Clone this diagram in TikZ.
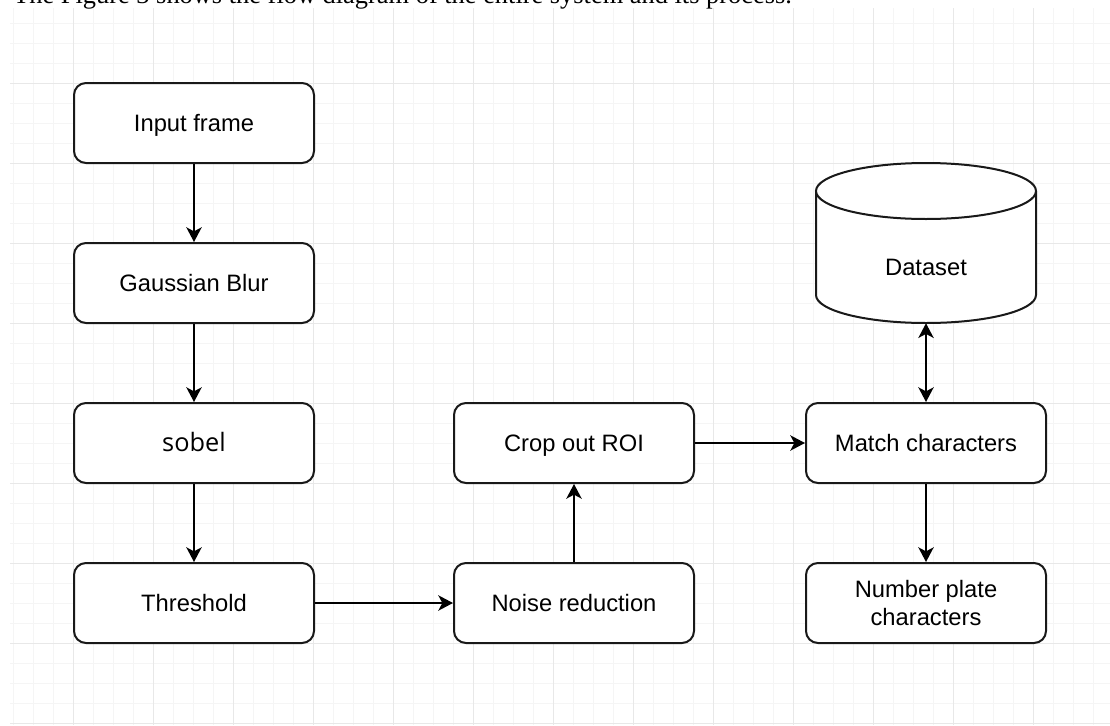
\documentclass[tikz,border=0pt]{standalone}
\usepackage{fontspec}
\setmainfont{Liberation Sans}
\newfontfamily\docserif{Liberation Serif}
\newfontfamily\labelalt{Open Sans}
\usetikzlibrary{arrows.meta}

\tikzset{
  gridminor/.style={draw=black!4, line width=0.75pt},
  gridmajor/.style={draw=black!9, line width=0.75pt},
  procbox/.style={draw=black!90, line width=1.5pt, rounded corners=9pt, fill=white,
    minimum width=180pt, minimum height=60pt, inner sep=0pt, align=center,
    text height=16.1pt, text depth=3.8pt,
    font=\fontsize{17.8}{21}\selectfont},
  dbhull/.style={minimum width=165pt, minimum height=120pt, inner sep=0pt},
  dbline/.style={draw=black!90, line width=1.5pt, fill=white},
  tipshape/.style={},
  flow/.style={line width=1.5pt, draw=black,
    -{Stealth[length=11pt, width=11.5pt, inset=3pt]}},
  flowboth/.style={line width=1.5pt, draw=black,
    {Stealth[length=11pt, width=11.5pt, inset=3pt]}-{Stealth[length=11pt, width=11.5pt, inset=3pt]}},
}

\begin{document}
\begin{tikzpicture}[x=0.75pt, y=-0.75pt]
  \useasboundingbox (0,0) rectangle (1110,725);
  \fill[white] (0,0) rectangle (1110,725);

  % background grid: fine lines every 20 units, heavier every 80
  \foreach \k in {0,...,54} {
    \draw[gridminor] (13.5+20*\k, 8) -- (13.5+20*\k, 725);
  }
  \foreach \k in {0,...,35} {
    \draw[gridminor] (10, 23+20*\k) -- (1110, 23+20*\k);
  }
  \foreach \k in {0,...,12} {
    \draw[gridmajor] (73.5+80*\k, 8) -- (73.5+80*\k, 725);
  }
  \foreach \k in {0,...,8} {
    \draw[gridmajor] (10, 83+80*\k) -- (1110, 83+80*\k);
  }

  % sentence running above the figure
  \node[anchor=base west, inner sep=0pt, font=\docserif\fontsize{19.8}{22}\selectfont]
    (caption) at (13,3) {The Figure 3 shows the flow diagram of the entire system and its process.};

  % processing steps
  \node[procbox] (input)  at (194,123) {Input frame};
  \node[procbox] (gauss)  at (194,283) {Gaussian Blur};
  \node[procbox, font=\labelalt\fontsize{19}{22}\selectfont] (sobel) at (194,443) {sobel};
  \node[procbox] (thresh) at (194,603) {Threshold};
  \node[procbox] (noise)  at (574,603) {Noise reduction};
  \node[procbox] (crop)   at (574,443) {Crop out ROI};
  \node[procbox] (match)  at (926,443) {Match characters};
  \node[procbox, text height=, text depth=, font=\fontsize{17.8}{21}\selectfont] (plate) at (926,603) {Number plate\\characters};

  % character dataset drawn as a cylinder
  \node[dbhull] (dataset) at (926,243) {};
  \draw[dbline] (816,191) -- (816,295) arc[start angle=180, end angle=360, x radius=82.5pt, y radius=21pt] -- (1036,191);
  \draw[dbline] (926,191) ellipse [x radius=82.5pt, y radius=21pt];
  \node[font=\fontsize{17.8}{21}\selectfont, inner sep=0pt] (dslabel) at (926,267) {Dataset};

  % connectors
  \draw[flow] (input) -- (gauss);
  \draw[flow] (gauss) -- (sobel);
  \draw[flow] (sobel) -- (thresh);
  \draw[flow] (thresh) -- (noise);
  \draw[flow] (noise) -- (crop);
  \draw[flow] (crop) -- (match);
  \draw[flow] (match) -- (plate);
  \draw[flowboth] (match.north) -- (dataset.south);
\end{tikzpicture}
\end{document}
